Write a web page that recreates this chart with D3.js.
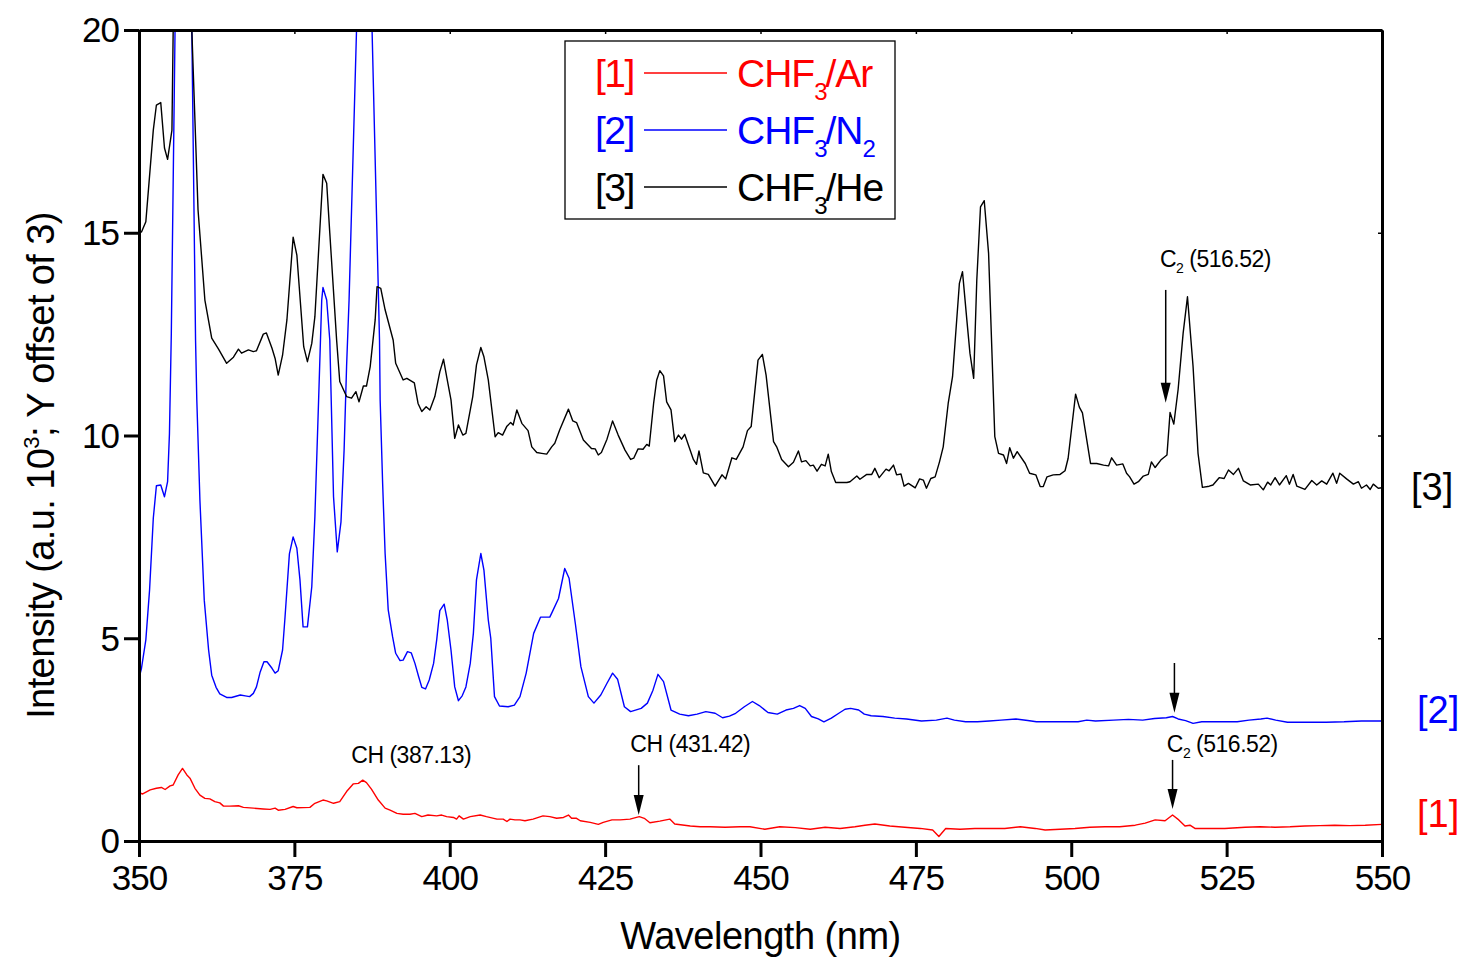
<!DOCTYPE html>
<html>
<head>
<meta charset="utf-8">
<script src="https://cdn.jsdelivr.net/npm/d3@7/dist/d3.min.js"></script>
<style>
  html, body { margin: 0; padding: 0; background: #fff; }
  svg { display: block; font-family: "Liberation Sans", Arial, sans-serif; }
</style>
</head>
<body>
<svg id="chart" width="1460" height="958"></svg>
<script>
// Optical emission spectra of CHF3 plasmas, each trace offset vertically by 3 (a.u. x10^3)
const xTicks = [350, 375, 400, 425, 450, 475, 500, 525, 550];
const yTicks = [0, 5, 10, 15, 20];

// [3] CHF3/He  — [wavelength nm, intensity]
const spectrumHe = [
  [350.0,14.99],[350.4,15.02],[351.1,15.27],[352.3,17.53],[352.8,18.15],[353.5,18.21],[354.1,17.09],
  [354.6,16.81],[355.3,17.53],[355.5,20.0],[356.5,24.0],[357.5,24.5],[358.5,20.0],[359.5,15.56],
  [360.6,13.34],[361.7,12.40],[362.8,12.13],[364.1,11.78],[365.2,11.93],[366.0,12.13],[366.5,12.03],
  [367.6,12.11],[368.4,12.07],[368.9,12.09],[370.0,12.50],[370.5,12.53],[371.4,12.15],[371.9,11.90],
  [372.4,11.49],[373.1,11.98],[373.8,12.85],[374.8,14.89],[375.4,14.45],[376.5,12.19],[377.1,11.82],
  [377.8,12.27],[378.3,12.93],[379.6,16.44],[380.2,16.22],[380.7,14.99],[381.8,12.35],[382.3,11.33],
  [383.4,10.96],[384.2,10.92],[384.9,11.08],[385.4,10.83],[386.1,11.22],[386.6,11.22],[387.2,11.70],
  [388.0,12.85],[388.3,13.67],[388.9,13.63],[389.6,13.10],[390.9,12.35],[391.3,11.78],[392.5,11.37],
  [393.1,11.41],[394.3,11.30],[394.9,10.79],[395.5,10.59],[396.2,10.71],[396.8,10.63],[397.6,10.96],
  [398.4,11.57],[399.0,11.88],[399.5,11.45],[400.2,10.88],[400.8,9.93],[401.4,10.26],[402.1,10.01],
  [402.6,10.05],[403.7,10.96],[404.3,11.74],[405.0,12.17],[405.5,11.94],[406.2,11.37],[407.3,9.97],
  [407.8,10.07],[408.5,10.01],[409.2,10.23],[409.8,10.32],[410.2,10.26],[410.8,10.63],[411.6,10.30],
  [412.6,10.12],[413.2,9.72],[414.0,9.58],[414.8,9.56],[415.6,9.54],[416.4,9.72],[416.9,9.81],
  [417.7,10.14],[419.1,10.65],[419.8,10.36],[420.4,10.32],[421.5,9.89],[422.8,9.68],[423.4,9.67],
  [423.9,9.52],[424.4,9.58],[425.3,9.91],[426.2,10.36],[427.1,10.01],[428.2,9.64],[429.1,9.41],
  [429.6,9.44],[430.3,9.67],[431.1,9.66],[431.7,9.78],[432.1,9.74],[432.8,10.79],[433.3,11.37],
  [433.8,11.60],[434.4,11.47],[434.9,10.83],[435.6,10.63],[436.2,9.85],[436.8,10.01],[437.3,9.91],
  [437.8,10.03],[439.2,9.41],[439.7,9.29],[440.1,9.62],[440.8,9.08],[441.6,9.04],[442.7,8.75],
  [443.8,9.03],[444.4,8.93],[445.4,9.45],[446.1,9.41],[447.2,9.72],[447.9,10.12],[448.5,10.22],
  [449.6,11.86],[450.3,12.00],[450.9,11.49],[452.1,9.85],[452.6,9.72],[453.4,9.41],[454.5,9.23],
  [455.3,9.34],[456.1,9.62],[456.6,9.35],[457.3,9.38],[458.0,9.25],[458.5,9.27],[459.1,9.12],
  [459.8,9.29],[460.4,9.25],[460.9,9.54],[461.4,9.11],[462.1,8.84],[463.9,8.84],[464.4,8.86],
  [465.5,9.00],[466.0,8.92],[467.1,9.04],[467.9,9.04],[468.4,9.19],[469.1,8.96],[470.2,9.17],
  [470.7,9.13],[471.4,9.27],[471.9,9.03],[472.6,9.05],[473.1,8.75],[473.8,8.82],[474.9,8.71],
  [475.6,8.93],[476.2,8.90],[476.7,8.70],[477.4,8.94],[478.1,8.98],[478.8,9.35],[479.4,9.72],
  [480.2,10.79],[480.9,11.45],[482.0,13.75],[482.5,14.04],[483.2,12.85],[483.7,12.03],[484.3,11.41],
  [484.8,13.83],[485.4,15.64],[486.0,15.79],[486.7,14.49],[487.7,9.97],[488.3,9.56],[489.1,9.52],
  [489.6,9.31],[490.1,9.70],[490.7,9.44],[491.3,9.60],[492.6,9.31],[493.3,9.07],[494.3,9.03],
  [495.0,8.74],[495.5,8.74],[496.1,8.98],[497.1,9.03],[498.2,9.04],[499.0,9.13],[499.5,9.44],
  [500.7,11.02],[501.3,10.70],[501.8,10.56],[503.1,9.31],[504.1,9.31],[505.2,9.27],[506.0,9.25],
  [506.5,9.45],[507.3,9.27],[508.3,9.30],[508.9,9.07],[509.4,8.98],[510.1,8.80],[510.8,8.86],
  [511.6,9.00],[512.4,9.04],[512.9,9.35],[513.5,9.21],[514.5,9.41],[515.4,9.52],[515.9,10.57],
  [516.5,10.28],[517.2,11.14],[518.0,12.52],[518.7,13.42],[519.6,11.70],[520.4,9.56],[521.1,8.72],
  [522.2,8.75],[522.8,8.78],[523.8,8.96],[524.6,8.94],[525.3,9.15],[526.1,9.04],[526.9,9.19],
  [527.7,8.88],[528.8,8.78],[530.1,8.80],[530.9,8.66],[531.6,8.85],[532.1,8.78],[532.8,8.96],
  [533.5,8.78],[534.6,9.01],[535.1,8.80],[535.7,9.04],[536.3,8.75],[537.6,8.67],[538.7,8.89],
  [539.5,8.78],[540.3,8.88],[541.1,8.80],[542.1,9.07],[542.7,8.82],[543.2,9.07],[544.3,8.93],
  [545.4,8.80],[546.2,8.86],[546.7,8.70],[547.5,8.78],[548.1,8.67],[548.6,8.80],[549.4,8.70],
  [550.0,8.71]
];

// [2] CHF3/N2
const spectrumN2 = [
  [350.0,4.01],[350.4,4.26],[351.1,4.96],[351.7,6.19],[352.3,7.96],[352.8,8.76],[353.5,8.78],
  [354.1,8.49],[354.6,8.86],[354.9,10.05],[355.2,12.52],[355.8,20.0],[356.5,26.0],[357.5,26.0],
  [358.5,20.0],[359.1,12.35],[359.3,10.88],[359.8,8.41],[360.5,5.94],[361.2,4.71],[361.7,4.09],
  [362.4,3.79],[363.0,3.63],[364.1,3.54],[364.9,3.54],[366.3,3.60],[367.1,3.58],[367.8,3.56],
  [368.4,3.64],[368.9,3.80],[369.5,4.17],[370.1,4.42],[370.6,4.42],[371.4,4.26],[371.9,4.14],
  [372.4,4.20],[373.1,4.71],[373.5,5.53],[374.2,7.08],[374.8,7.50],[375.4,7.22],[375.9,6.44],
  [376.4,5.28],[377.1,5.28],[377.8,6.27],[378.3,8.00],[378.9,10.88],[379.4,13.34],[379.6,13.65],
  [380.2,13.34],[380.7,12.35],[381.3,8.49],[381.9,7.13],[382.5,7.87],[383.0,9.64],[383.4,11.70],
  [383.8,13.34],[385.0,20.0],[385.8,24.0],[386.7,24.0],[387.5,20.0],[388.7,12.35],[388.8,10.88],
  [389.2,8.82],[389.6,7.09],[390.1,5.70],[390.8,5.04],[391.3,4.63],[392.0,4.45],[392.5,4.46],
  [393.2,4.67],[393.8,4.64],[394.4,4.38],[395.0,4.05],[395.5,3.79],[396.1,3.75],[396.7,3.97],
  [397.4,4.38],[397.9,4.96],[398.4,5.68],[399.1,5.84],[399.6,5.45],[400.2,4.71],[400.8,3.80],
  [401.4,3.46],[402.0,3.58],[402.6,3.80],[403.3,4.38],[403.8,5.12],[404.3,6.44],[405.0,7.09],
  [405.5,6.68],[406.2,5.45],[406.6,5.00],[407.2,3.56],[408.0,3.33],[409.4,3.31],[410.4,3.35],
  [411.3,3.56],[412.3,4.14],[413.5,5.12],[414.6,5.52],[416.1,5.52],[416.5,5.65],[417.5,5.98],
  [418.5,6.72],[419.2,6.48],[420.2,5.37],[421.1,4.30],[422.3,3.56],[423.2,3.40],[424.3,3.60],
  [425.3,3.89],[426.2,4.14],[427.0,3.99],[428.1,3.31],[429.1,3.19],[430.8,3.27],[431.8,3.40],
  [432.7,3.72],[433.5,4.11],[434.4,3.93],[435.6,3.23],[437.0,3.13],[438.4,3.09],[439.8,3.13],
  [441.2,3.19],[442.7,3.15],[443.9,3.04],[445.0,3.08],[446.0,3.15],[447.4,3.31],[448.7,3.44],
  [449.8,3.34],[451.2,3.17],[452.7,3.13],[454.1,3.23],[455.3,3.27],[456.3,3.34],[457.2,3.27],
  [458.2,3.07],[459.3,3.01],[460.2,2.94],[461.4,3.03],[462.6,3.15],[463.6,3.25],[464.5,3.27],
  [465.8,3.23],[466.7,3.13],[467.8,3.09],[469.7,3.07],[471.6,3.03],[473.5,3.01],[475.9,2.96],
  [478.3,2.98],[480.0,3.03],[481.2,2.98],[483.0,2.94],[484.9,2.94],[486.8,2.96],[488.7,2.98],
  [491.1,3.01],[493.0,2.97],[494.4,2.94],[497.3,2.94],[501.1,2.94],[502.5,2.98],[503.9,2.96],
  [506.8,2.98],[509.2,3.00],[511.5,2.98],[513.4,3.02],[515.3,3.04],[516.3,3.07],[517.2,3.01],
  [518.4,2.97],[519.6,2.90],[521.0,2.94],[523.9,2.94],[526.7,2.94],[528.6,2.98],[530.5,3.01],
  [531.5,3.03],[532.9,2.98],[534.8,2.93],[537.2,2.93],[541.0,2.93],[543.9,2.94],[546.7,2.96],
  [550.0,2.96]
];

// [1] CHF3/Ar
const spectrumAr = [
  [350.0,1.19],[350.6,1.16],[351.8,1.26],[352.8,1.30],[353.6,1.32],[354.2,1.27],[355.0,1.36],
  [355.5,1.38],[356.3,1.63],[357.0,1.79],[357.7,1.63],[358.2,1.55],[359.0,1.30],[359.8,1.13],
  [360.6,1.05],[361.4,1.04],[362.2,0.97],[363.0,0.94],[363.6,0.86],[364.6,0.86],[366.0,0.87],
  [366.8,0.83],[368.4,0.81],[370.0,0.79],[371.1,0.78],[371.9,0.81],[372.4,0.76],[373.5,0.78],
  [374.8,0.85],[375.4,0.82],[377.5,0.83],[378.3,0.93],[379.6,1.01],[380.2,0.99],[381.3,0.93],
  [382.3,0.97],[383.4,1.22],[384.5,1.41],[385.3,1.42],[386.0,1.50],[386.6,1.44],[387.4,1.28],
  [388.5,1.01],[389.6,0.81],[390.4,0.76],[391.5,0.68],[392.5,0.66],[393.6,0.66],[394.4,0.68],
  [395.5,0.60],[396.5,0.64],[397.9,0.62],[398.7,0.64],[399.5,0.60],[400.6,0.58],[401.1,0.54],
  [401.5,0.62],[402.2,0.54],[403.3,0.60],[404.9,0.64],[405.9,0.60],[407.6,0.54],[408.6,0.54],
  [409.2,0.48],[409.7,0.54],[410.5,0.52],[411.3,0.52],[412.1,0.50],[413.4,0.54],[415.0,0.62],
  [416.1,0.60],[417.2,0.56],[418.3,0.58],[419.1,0.64],[419.6,0.56],[420.4,0.56],[421.0,0.50],
  [422.6,0.46],[423.9,0.41],[424.7,0.46],[426.1,0.52],[427.4,0.52],[429.0,0.54],[430.5,0.60],
  [431.3,0.56],[432.2,0.45],[433.8,0.49],[435.4,0.54],[436.2,0.42],[438.7,0.37],[440.3,0.35],
  [441.9,0.35],[444.3,0.34],[446.7,0.35],[448.3,0.35],[450.7,0.29],[453.1,0.35],[455.6,0.33],
  [458.0,0.29],[460.4,0.34],[462.8,0.31],[465.2,0.35],[466.8,0.39],[468.4,0.42],[470.8,0.37],
  [473.2,0.34],[475.7,0.31],[477.7,0.27],[478.7,0.11],[479.8,0.31],[482.1,0.29],[484.5,0.31],
  [486.9,0.31],[489.3,0.31],[491.8,0.35],[494.2,0.31],[495.8,0.27],[498.2,0.29],[500.6,0.31],
  [503.0,0.34],[505.4,0.35],[507.8,0.35],[510.3,0.39],[511.9,0.44],[513.5,0.52],[515.1,0.50],
  [516.3,0.64],[517.3,0.52],[518.3,0.37],[519.1,0.39],[519.9,0.31],[522.3,0.31],[524.7,0.31],
  [528.0,0.34],[530.4,0.35],[532.8,0.34],[535.2,0.35],[537.6,0.37],[540.0,0.38],[542.4,0.39],
  [544.8,0.38],[547.3,0.39],[550.0,0.41]
];

// Legend entries and right-hand trace tags
const seriesTags = ["[1]", "[2]", "[3]"];
const seriesGas = ["Ar", "N", "He"];
const seriesGasSub = ["", "2", ""];
const seriesColors = ["#ff0000", "#0000ff", "#000000"];
const tagLevels = [0.4, 2.95, 8.7];

// Line assignments: [wavelength of arrow, arrow top, arrow tip]
const arrows = [
  [430.4, 1.87, 0.64],
  [516.3, 2.00, 0.79],
  [516.6, 4.39, 3.16],
  [515.2, 13.59, 10.81]
];
// Labels: [species, subscript, wavelength text, centre wavelength, baseline intensity]
const lineLabels = [
  ["CH", "", "(387.13)", 393.8, 1.93],
  ["CH", "", "(431.42)", 438.7, 2.20],
  ["C", "2", "(516.52)", 524.3, 2.20],
  ["C", "2", "(516.52)", 523.2, 14.15]
];

const svg = d3.select("#chart");
const plot = { left: 139, right: 1382, top: 30, bottom: 841 };

const x = d3.scaleLinear().domain([350, 550]).range([plot.left, plot.right]);
const y = d3.scaleLinear().domain([0, 20]).range([plot.bottom, plot.top]);

svg.append("defs").append("clipPath").attr("id", "plotClip")
  .append("rect")
  .attr("x", plot.left).attr("y", plot.top)
  .attr("width", plot.right - plot.left).attr("height", plot.bottom - plot.top);

// Spectra
const line = d3.line().x(d => x(d[0])).y(d => y(d[1]));
const traces = svg.append("g").attr("clip-path", "url(#plotClip)");
[[spectrumAr, seriesColors[0]], [spectrumN2, seriesColors[1]], [spectrumHe, seriesColors[2]]]
  .forEach(([data, color]) => {
    traces.append("path")
      .datum(data)
      .attr("d", line)
      .attr("fill", "none")
      .attr("stroke", color)
      .attr("stroke-width", 1.4)
      .attr("stroke-linejoin", "round");
  });

// Axes
const axisFont = 35;
const gx = svg.append("g").attr("transform", `translate(0,${plot.bottom})`)
  .call(d3.axisBottom(x).tickValues(xTicks).tickSize(16).tickSizeOuter(0).tickPadding(8));
const gy = svg.append("g").attr("transform", `translate(${plot.left},0)`)
  .call(d3.axisLeft(y).tickValues(yTicks).tickSize(15).tickSizeOuter(0).tickPadding(5));
const gt = svg.append("g").attr("transform", `translate(0,${plot.top})`)
  .call(d3.axisTop(x).tickValues(xTicks).tickSize(-4).tickSizeOuter(0).tickFormat(""));
const gr = svg.append("g").attr("transform", `translate(${plot.right},0)`)
  .call(d3.axisRight(y).tickValues(yTicks).tickSize(-4).tickSizeOuter(0).tickFormat(""));

[gx, gy, gt, gr].forEach(g => {
  g.select(".domain").attr("stroke", "#000").attr("stroke-width", 3);
  g.selectAll(".tick line").attr("stroke", "#000").attr("stroke-width", 3);
  g.selectAll(".tick text")
    .attr("fill", "#000")
    .style("font-family", "'Liberation Sans', Arial, sans-serif")
    .style("font-size", axisFont + "px")
    .attr("letter-spacing", "-1");
});
gt.selectAll(".tick line").attr("stroke-width", 1.5);
gr.selectAll(".tick line").attr("stroke-width", 1.5);
gy.selectAll(".tick text").attr("dy", "0.34em");

// Axis titles
svg.append("text")
  .attr("x", (plot.left + plot.right) / 2).attr("y", 949)
  .attr("text-anchor", "middle")
  .style("font-size", "38px").attr("letter-spacing", "-0.5")
  .text("Wavelength (nm)");

const yTitle = svg.append("text")
  .attr("transform", `translate(54,${(plot.top + plot.bottom) / 2 + 30}) rotate(-90)`)
  .attr("text-anchor", "middle")
  .style("font-size", "38px").attr("letter-spacing", "-0.6");
yTitle.append("tspan").text("Intensity (a.u. 10");
yTitle.append("tspan").attr("dy", -15).style("font-size", "22px").text("3");
yTitle.append("tspan").attr("dy", 15).text("; Y offset of 3)");

// Arrows marking emission lines
const arrowG = svg.append("g");
arrows.forEach(([wl, top, tip]) => {
  const ax = x(wl), ay0 = y(top), ay1 = y(tip);
  arrowG.append("line")
    .attr("x1", ax).attr("x2", ax).attr("y1", ay0).attr("y2", ay1 - 18)
    .attr("stroke", "#000").attr("stroke-width", 1.5);
  arrowG.append("path")
    .attr("d", `M${ax - 5},${ay1 - 20} L${ax + 5},${ay1 - 20} L${ax},${ay1} Z`)
    .attr("fill", "#000");
});

// Line labels
lineLabels.forEach(([sp, sub, wlText, wl, base]) => {
  const t = svg.append("text")
    .attr("x", x(wl)).attr("y", y(base))
    .attr("text-anchor", "middle")
    .style("font-size", "23px").attr("letter-spacing", "-0.5");
  t.append("tspan").text(sp);
  if (sub) {
    t.append("tspan").attr("dy", 6).style("font-size", "14px").text(sub);
    t.append("tspan").attr("dy", -6).text(" " + wlText);
  } else {
    t.append("tspan").text(" " + wlText);
  }
});

// Trace tags on the right
seriesTags.forEach((tag, i) => {
  svg.append("text")
    .attr("x", i === 2 ? 1411 : 1417).attr("y", y(tagLevels[i]) + (i === 2 ? 12 : 2))
    .style("font-size", "38px")
    .attr("fill", seriesColors[i])
    .text(tag);
});

// Legend
const legend = svg.append("g");
legend.append("rect")
  .attr("x", 565).attr("y", 41).attr("width", 330).attr("height", 178)
  .attr("fill", "#fff").attr("stroke", "#000").attr("stroke-width", 1.3);
seriesTags.forEach((tag, i) => {
  const base = 87 + i * 57;
  const c = seriesColors[i];
  legend.append("text").attr("x", 595).attr("y", base)
    .style("font-size", "39px").attr("fill", c).attr("letter-spacing", "-1.5").text(tag);
  legend.append("line")
    .attr("x1", 644).attr("x2", 727).attr("y1", base - 14).attr("y2", base - 14)
    .attr("stroke", c).attr("stroke-width", 1.4);
  const t = legend.append("text").attr("x", 737).attr("y", base)
    .style("font-size", "39px").attr("fill", c).attr("letter-spacing", "-1");
  t.append("tspan").text("CHF");
  t.append("tspan").attr("dy", 13).style("font-size", "24px").text("3");
  t.append("tspan").attr("dy", -13).attr("dx", -1).text("/" + seriesGas[i]);
  if (seriesGasSub[i]) {
    t.append("tspan").attr("dy", 13).style("font-size", "24px").text(seriesGasSub[i]);
  }
});
</script>
</body>
</html>
